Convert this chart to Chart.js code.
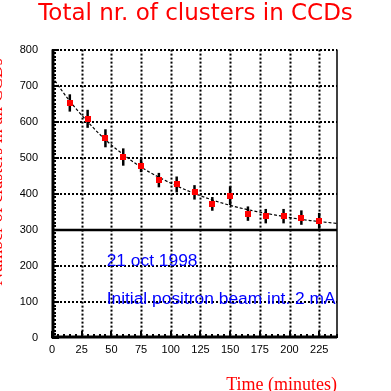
<!DOCTYPE html>
<html>
<head>
<meta charset="utf-8">
<script src="https://cdn.jsdelivr.net/npm/chart.js@4"></script>
<style>
  html, body { margin: 0; padding: 0; background: #fff; }
  #wrap { width: 391px; height: 391px; }
</style>
</head>
<body>
<div id="wrap"><canvas id="chart" width="391" height="391"></canvas></div>
<script>
// measured points (minutes, clusters, error)
var timeMin = [15, 30, 45, 60, 75, 90, 105, 120, 135, 150, 165, 180, 195, 210, 225];
var clusters = [652, 608, 554, 502, 478, 438, 426, 404, 372, 395, 345, 338, 338, 334, 325];
var clusterErr = [24, 25, 25, 24, 18, 20, 22, 20, 19, 26, 20, 20, 20, 20, 22];

// fitted curve
var fitTime = [0, 15, 30, 45, 60, 75, 90, 105, 120, 135, 150, 165, 180, 195, 210, 225, 240];
var fitValues = [725, 657, 600, 550, 509, 474, 446, 422, 401, 383, 368, 356, 346, 337, 329, 323, 318];

var xTicks = [0, 25, 50, 75, 100, 125, 150, 175, 200, 225];
var yTicks = [0, 100, 200, 300, 400, 500, 600, 700, 800];
var notes = ['21 oct 1998', 'Initial positron beam int. 2 mA'];

var pts = timeMin.map(function (t, i) { return { x: t, y: clusters[i] }; });
var fit = fitTime.map(function (t, i) { return { x: t, y: fitValues[i] }; });

var framePlugin = {
  id: 'frame',
  beforeDatasetsDraw: function (chart) {
    var ctx = chart.ctx;
    var xs = chart.scales.x, ys = chart.scales.y;
    var a = chart.chartArea;
    ctx.save();
    // dashed grid
    ctx.strokeStyle = '#000';
    ctx.lineWidth = 2;
    ctx.setLineDash([2, 2]);
    xTicks.forEach(function (v) {
      if (v === 0) return;
      var px = Math.round(xs.getPixelForValue(v)) + 0.5;
      ctx.beginPath(); ctx.moveTo(px, a.top); ctx.lineTo(px, a.bottom); ctx.stroke();
    });
    yTicks.forEach(function (v) {
      if (v === 0 || v === 300) return;
      var py = Math.round(ys.getPixelForValue(v));
      ctx.beginPath(); ctx.moveTo(a.left, py); ctx.lineTo(a.right, py); ctx.stroke();
    });
    ctx.setLineDash([]);
    // solid line at 300
    var p300 = Math.round(ys.getPixelForValue(300));
    ctx.lineWidth = 2.5;
    ctx.beginPath(); ctx.moveTo(a.left, p300); ctx.lineTo(a.right, p300); ctx.stroke();
    // right border
    ctx.lineWidth = 1.5;
    ctx.beginPath(); ctx.moveTo(a.right, a.top); ctx.lineTo(a.right, a.bottom); ctx.stroke();
    // left + bottom axes
    ctx.lineWidth = 3;
    ctx.beginPath(); ctx.moveTo(a.left + 1, a.top); ctx.lineTo(a.left + 1, a.bottom - 1); ctx.lineTo(a.right, a.bottom - 1); ctx.stroke();
    // minor ticks inward
    ctx.lineWidth = 2;
    for (var v = 0; v <= 800; v += 10) {
      var py = Math.round(ys.getPixelForValue(v));
      var len = v % 100 === 0 ? 7 : 4;
      ctx.beginPath(); ctx.moveTo(a.left, py); ctx.lineTo(a.left + len, py); ctx.stroke();
    }
    for (var t = 0; t <= 240; t += 5) {
      var px = Math.round(xs.getPixelForValue(t));
      var l2 = t % 25 === 0 ? 7 : 4;
      ctx.beginPath(); ctx.moveTo(px, a.bottom); ctx.lineTo(px, a.bottom - l2); ctx.stroke();
    }
    ctx.restore();
  },
  afterDatasetsDraw: function (chart) {
    var ctx = chart.ctx;
    var xs = chart.scales.x, ys = chart.scales.y;
    ctx.save();
    // error bars
    ctx.strokeStyle = '#000';
    ctx.lineWidth = 2.5;
    timeMin.forEach(function (t, i) {
      var px = xs.getPixelForValue(t);
      ctx.beginPath();
      ctx.moveTo(px, ys.getPixelForValue(clusters[i] - clusterErr[i]));
      ctx.lineTo(px, ys.getPixelForValue(clusters[i] + clusterErr[i]));
      ctx.stroke();
    });
    // red points on top of the bars
    ctx.fillStyle = '#ff0000';
    timeMin.forEach(function (t, i) {
      var px = xs.getPixelForValue(t), py = ys.getPixelForValue(clusters[i]);
      ctx.fillRect(Math.round(px) - 3, Math.round(py) - 3, 6, 6);
    });
    // notes
    ctx.fillStyle = '#0000ff';
    ctx.font = '17.4px "Liberation Sans", Arial, sans-serif';
    ctx.textBaseline = 'middle';
    ctx.fillText(notes[0], xs.getPixelForValue(46), ys.getPixelForValue(212));
    ctx.fillText(notes[1], xs.getPixelForValue(46), ys.getPixelForValue(109));
    // y title, almost all of it off the left edge
    ctx.fillStyle = '#ff0000';
    ctx.font = '18px "Liberation Serif", serif';
    ctx.textBaseline = 'alphabetic';
    ctx.textAlign = 'center';
    ctx.translate(1.5, 172);
    ctx.rotate(-Math.PI / 2);
    ctx.fillText('Number of clusters in all CCDs', 0, 0);
    ctx.restore();
  }
};

new Chart(document.getElementById('chart').getContext('2d'), {
  type: 'scatter',
  data: {
    datasets: [
      {
        type: 'line',
        data: fit,
        borderColor: '#000',
        borderWidth: 1.2,
        borderDash: [3, 2],
        pointRadius: 0,
        tension: 0.4,
        fill: false
      },
      {
        data: pts,
        backgroundColor: '#ff0000',
        borderColor: '#ff0000',
        pointStyle: 'rect',
        pointRadius: 3
      }
    ]
  },
  options: {
    responsive: false,
    animation: false,
    layout: { padding: 0 },
    plugins: {
      legend: { display: false },
      tooltip: { enabled: false },
      title: {
        display: true,
        text: 'Total nr. of clusters in CCDs',
        color: '#ff0000',
        font: { family: '"DejaVu Sans", sans-serif', size: 23, weight: 'normal' },
        padding: { top: 0, bottom: 22 }
      }
    },
    scales: {
      x: {
        type: 'linear',
        min: 0,
        max: 240,
        afterBuildTicks: function (s) { s.ticks = xTicks.map(function (v) { return { value: v }; }); },
        afterFit: function (s) { s.height = 53; },
        grid: { display: false, drawTicks: false },
        border: { display: false },
        ticks: { color: '#000', padding: 5, maxRotation: 0, font: { family: '"Liberation Sans", Arial, sans-serif', size: 11 } },
        title: {
          display: true,
          text: 'Time (minutes)',
          align: 'end',
          color: '#ff0000',
          font: { family: '"Liberation Serif", "Times New Roman", serif', size: 18 },
          padding: { top: 17, bottom: -5 }
        }
      },
      y: {
        min: 0,
        max: 800,
        afterBuildTicks: function (s) { s.ticks = yTicks.map(function (v) { return { value: v }; }); },
        afterFit: function (s) { s.width = 52; },
        grid: { display: false, drawTicks: false },
        border: { display: false },
        ticks: { color: '#000', padding: 14, font: { family: '"Liberation Sans", Arial, sans-serif', size: 11 } }
      },
      // empty box on the right, keeps the plot narrower than the title
      yRight: {
        position: 'right',
        min: 0,
        max: 800,
        afterFit: function (s) { s.width = 54; },
        grid: { display: false, drawTicks: false },
        border: { display: false },
        ticks: { display: false }
      }
    }
  },
  plugins: [framePlugin]
});
</script>
</body>
</html>
